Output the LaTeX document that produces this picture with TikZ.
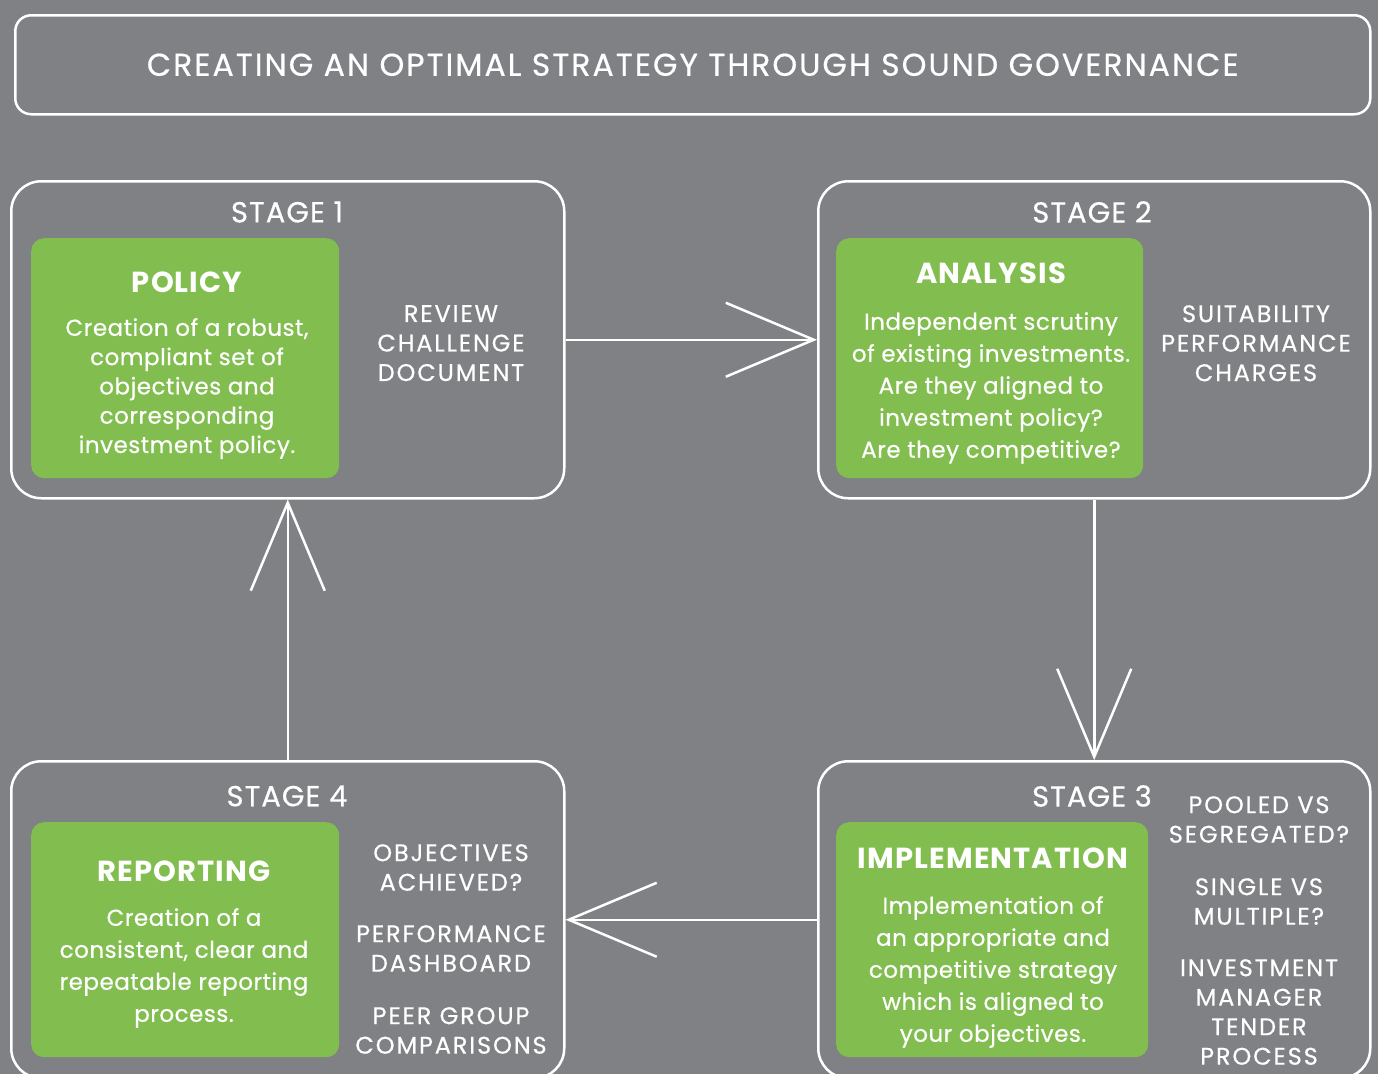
\documentclass[tikz,border=0pt]{standalone}
\usepackage{fontspec}
\setmainfont{Poppins}[UprightFeatures={FakeBold=0.5}]
\usetikzlibrary{arrows.meta}
\definecolor{bggray}{HTML}{808185}
\definecolor{leaf}{HTML}{82BD4F}
\newcommand{\spaced}[1]{\addfontfeatures{LetterSpace=#1}}
\tikzset{
  frame/.style={draw=white, line width=2.5pt, rounded corners=30pt, inner sep=0pt, anchor=north west},
  greenbox/.style={fill=leaf, rounded corners=13pt, inner sep=0pt, anchor=north west},
  stagelabel/.style={text=white, font=\fontsize{29}{32}\selectfont\spaced{3.6}, inner sep=0pt},
  heading/.style={text=white, font=\fontsize{29}{32}\selectfont\bfseries\spaced{3.8}, inner sep=0pt},
  body/.style={text=white, align=center, inner sep=0pt},
  side/.style={text=white, align=center, inner sep=0pt, font=\fontsize{24}{29.5}\selectfont\spaced{7.8}},
  conn/.style={draw=white, line width=2.5pt, -{Straight Barb[length=88pt, width=74pt, line width=2.5pt]}}
}
\begin{document}
\begin{tikzpicture}[x=1pt, y=-1pt]
\useasboundingbox (0,0) rectangle (1378,1074);
\fill[bggray] (0,0) rectangle (1378,1074);
\begin{scope}
\clip (0,0) rectangle (1378,1074);

% title banner
\node[frame, rounded corners=16pt, minimum width=1355pt, minimum height=99pt] (title) at (14,14) {};
\node[text=white, font=\fontsize{31.5}{34}\selectfont\spaced{6.4}, inner sep=0pt] (titletext) at (title.center)
  {CREATING AN OPTIMAL STRATEGY THROUGH SOUND GOVERNANCE};

% stage frames
\node[frame, minimum width=553pt, minimum height=317pt] (s1) at (10,180) {};
\node[frame, minimum width=552pt, minimum height=317pt] (s2) at (817,180) {};
\node[frame, minimum width=552pt, minimum height=317pt] (s3) at (817,760) {};
\node[frame, minimum width=553pt, minimum height=317pt] (s4) at (10,760) {};

% green panels
\node[greenbox, minimum width=308pt, minimum height=240pt] (g1) at (31,238) {};
\node[greenbox, minimum width=307pt, minimum height=240pt] (g2) at (836,238) {};
\node[greenbox, minimum width=312pt, minimum height=235pt] (g3) at (836,822) {};
\node[greenbox, minimum width=308pt, minimum height=235pt] (g4) at (31,822) {};

% stage labels
\node[stagelabel] (l1) at (287,212) {STAGE 1};
\node[stagelabel] (l2) at (1092,212) {STAGE 2};
\node[stagelabel] (l3) at (1092,796) {STAGE 3};
\node[stagelabel] (l4) at (287,796) {STAGE 4};

% stage 1
\node[heading] (h1) at (187,282) {POLICY};
\node[body, font=\fontsize{23}{29.3}\selectfont\spaced{2.2}, anchor=north] (b1) at (187,318)
  {Creation of a robust,\\compliant set of\\objectives and\\corresponding\\investment policy.};
\node[side, anchor=north] (r1) at (451,305) {REVIEW\\CHALLENGE\\DOCUMENT};

% stage 2
\node[heading] (h2) at (991,273) {ANALYSIS};
\node[body, font=\fontsize{23}{32}\selectfont\spaced{2.2}, anchor=north] (b2) at (991,312)
  {Independent scrutiny\\of existing investments.\\Are they aligned to\\investment policy?\\Are they competitive?};
\node[side, anchor=north] (r2) at (1256,305) {SUITABILITY\\PERFORMANCE\\CHARGES};

% stage 3
\node[heading] (h3) at (993,858) {IMPLEMENTATION};
\node[body, font=\fontsize{23}{32}\selectfont\spaced{2.2}, anchor=north] (b3) at (993,896)
  {Implementation of\\an appropriate and\\competitive strategy\\which is aligned to\\your objectives.};
\node[side, anchor=north] (r3a) at (1259,796) {POOLED VS\\SEGREGATED?};
\node[side, anchor=north] (r3b) at (1259,878) {SINGLE VS\\MULTIPLE?};
\node[side, anchor=north] (r3c) at (1259,959) {INVESTMENT\\MANAGER\\TENDER\\PROCESS};

% stage 4
\node[heading] (h4) at (184,871) {REPORTING};
\node[body, font=\fontsize{23}{32}\selectfont\spaced{2.2}, anchor=north] (b4) at (184,908)
  {Creation of a\\consistent, clear and\\repeatable reporting\\process.};
\node[side, anchor=north] (r4a) at (451,844) {OBJECTIVES\\ACHIEVED?};
\node[side, anchor=north] (r4b) at (451,925) {PERFORMANCE\\DASHBOARD};
\node[side, anchor=north] (r4c) at (451,1007) {PEER GROUP\\COMPARISONS};

% cycle connectors
\draw[conn] (s1.east) -- (s2.west);
\draw[conn] (s2.south) -- (s3.north);
\draw[conn] (s3.west) -- (s4.east);
\draw[conn] (s4.north) -- (s1.south);
\end{scope}
\end{tikzpicture}
\end{document}
